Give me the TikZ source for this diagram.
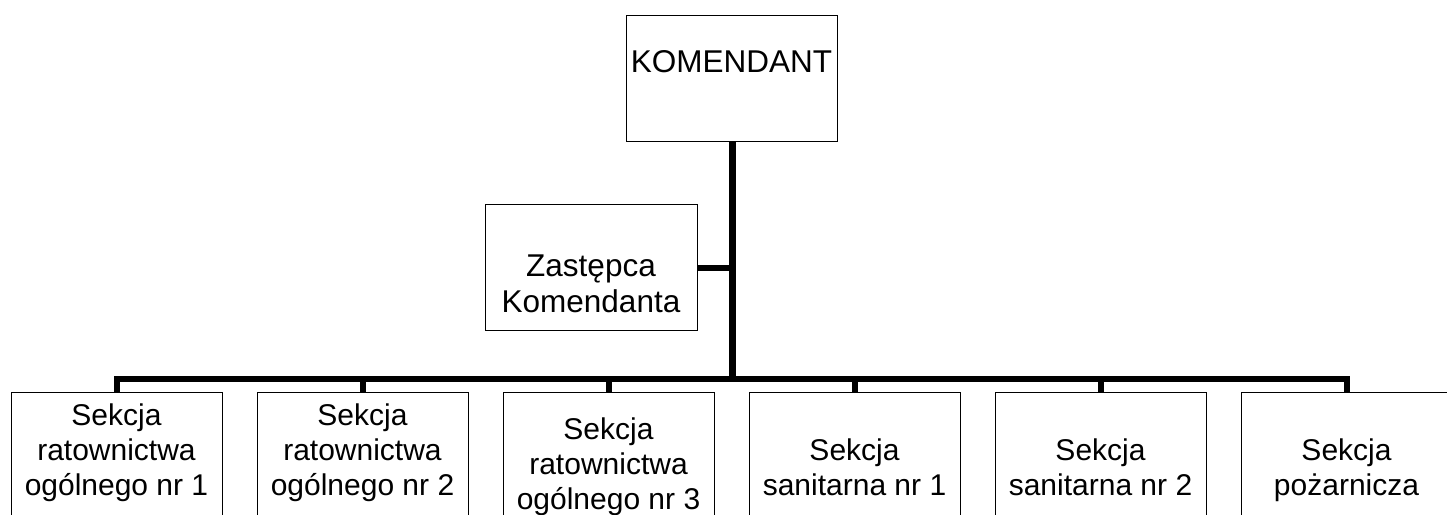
\documentclass[tikz,border=0pt]{standalone}
\usepackage{fontspec}
\setmainfont{Liberation Sans}
\begin{document}
\begin{tikzpicture}[x=1pt,y=-1pt,
  box/.style={draw=black,line width=1.3pt,rectangle,inner sep=0pt,anchor=north west},
  lbl/.style={anchor=north,inner sep=0pt,align=center},
  sect/.style={lbl,font=\fontsize{30}{35}\selectfont},
  conn/.style={draw=black,line width=6pt,line join=miter},
  bottombox/.style={box,minimum width=211pt,minimum height=140pt}]
\useasboundingbox (0,0) rectangle (1447,514);
% top boxes
\node[box,minimum width=211pt,minimum height=126pt] (kom) at (626,15) {};
\node[lbl,font=\fontsize{31.5}{36}\selectfont] (tkom) at (731.5,50) {KOMENDANT};
\node[box,minimum width=212pt,minimum height=126pt] (zast) at (485,204) {};
\node[lbl,font=\fontsize{31.5}{36.5}\selectfont] (tzast) at (591,254.5) {Zastępca\\Komendanta};
% bottom boxes
\node[bottombox] (b1) at (11,392) {};
\node[bottombox] (b2) at (257,392) {};
\node[bottombox] (b3) at (503,392) {};
\node[bottombox] (b4) at (749,392) {};
\node[bottombox] (b5) at (995,392) {};
\node[bottombox] (b6) at (1241,392) {};
\node[sect] (t1) at (116.5,404) {Sekcja\\ratownictwa\\ogólnego nr 1};
\node[sect] (t2) at (362.5,404) {Sekcja\\ratownictwa\\ogólnego nr 2};
\node[sect] (t3) at (608.5,418) {Sekcja\\ratownictwa\\ogólnego nr 3};
\node[sect] (t4) at (854.5,439) {Sekcja\\sanitarna nr 1};
\node[sect] (t5) at (1100.5,439) {Sekcja\\sanitarna nr 2};
\node[sect] (t6) at (1346.5,439) {Sekcja\\pożarnicza};
% connectors
\coordinate (bus) at (0,379);
\draw[conn] (b1.north) |- (b6.north |- bus) -- (b6.north);
\draw[conn] (b2.north) -- (b2.north |- bus);
\draw[conn] (b3.north) -- (b3.north |- bus);
\draw[conn] (b4.north) -- (b4.north |- bus);
\draw[conn] (b5.north) -- (b5.north |- bus);
\draw[conn,line width=7pt] (kom.south) -- (kom.south |- bus);
\draw[conn] (zast.east) -- (zast.east -| kom.south);
\end{tikzpicture}
\end{document}
